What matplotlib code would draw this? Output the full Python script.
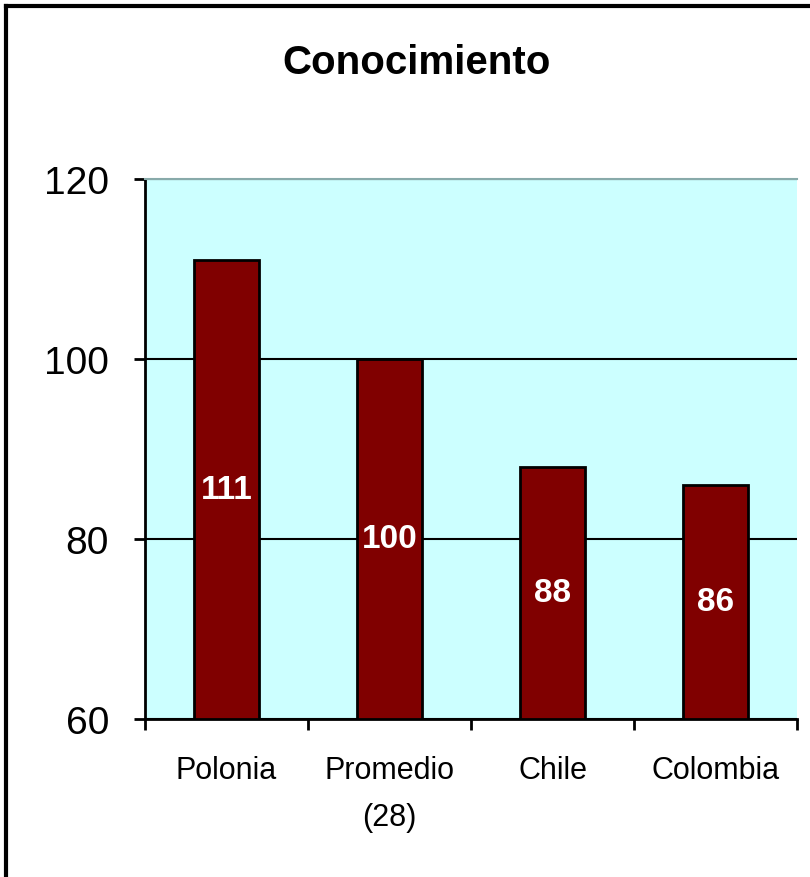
import matplotlib
matplotlib.use("Agg")
import matplotlib.pyplot as plt
from matplotlib.lines import Line2D
import numpy as np

categories = ["Polonia", "Promedio\n(28)", "Chile", "Colombia"]
values = [111, 100, 88, 86]
yticks = [60, 80, 100, 120]

plt.rcParams['font.family'] = ['Liberation Sans', 'DejaVu Sans']

fig = plt.figure(figsize=(8.10, 8.78), dpi=100)
ax = fig.add_axes([145/810, 1-720/878, (797-145)/810, (720-180)/878])
ax.set_facecolor("#CCFFFF")

x = np.arange(len(categories))
ax.bar(x, [v - 60 for v in values], bottom=60, width=0.40, color="#800000",
       edgecolor="black", linewidth=2, zorder=3)
for xi, v in zip(x, values):
    ax.text(xi, (60 + v) / 2, str(v), ha="center", va="center", color="white",
            fontsize=24, fontweight="bold", zorder=4)

ax.set_ylim(60, 120)
ax.set_xlim(-0.5, len(categories) - 0.5)
ax.set_yticks(yticks)
ax.set_yticklabels([str(t) for t in yticks], fontsize=28)
ax.yaxis.grid(True, color="black", linewidth=1.5, zorder=1)
ax.set_axisbelow(True)

ax.set_xticks(x)
ax.set_xticklabels(categories, fontsize=22, linespacing=1.75, va="top")
ax.tick_params(axis="x", which="major", length=0, pad=26)
ax.set_xticks(np.arange(-0.5, len(categories), 1.0), minor=True)
ax.tick_params(axis="x", which="minor", length=8, width=2, direction="out")
ax.tick_params(axis="y", length=8, width=2, direction="out", pad=18)

ax.spines["right"].set_visible(False)
ax.spines["top"].set_color("#88AAAA")
ax.spines["top"].set_linewidth(1.5)
ax.spines["left"].set_linewidth(2)
ax.spines["bottom"].set_linewidth(2)

fig.text(417/810, 1-63/878, "Conocimiento", ha="center", va="center",
         fontsize=29, fontweight="bold")

# figure border (left and top)
fig.add_artist(Line2D([6/810, 6/810], [0, 1-7/878], transform=fig.transFigure,
                      color="black", linewidth=3))
fig.add_artist(Line2D([6/810, 1], [1-7/878, 1-7/878], transform=fig.transFigure,
                      color="black", linewidth=3))

fig.savefig("out.png", dpi=100)
